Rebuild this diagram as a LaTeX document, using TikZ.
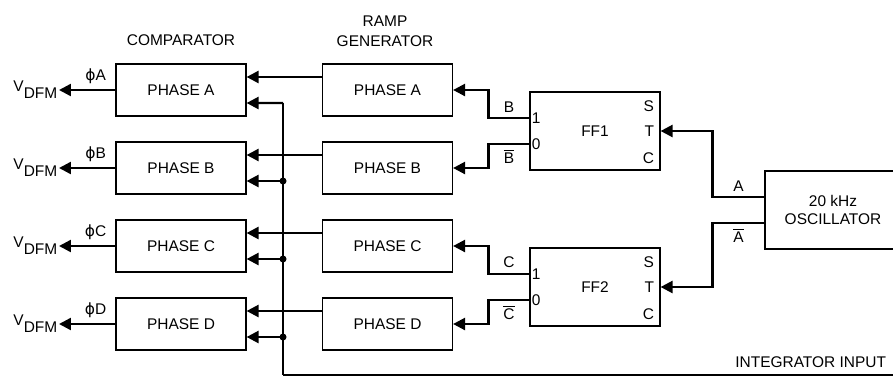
\documentclass[tikz,border=0pt]{standalone}
\usepackage{fontspec}
\setmainfont{Liberation Sans}
\newfontfamily\phifont{DejaVu Sans}
\usetikzlibrary{arrows.meta,calc}
\tikzset{
  box/.style={rectangle,draw,line width=0.8pt,minimum width=3.25cm,
              minimum height=1.3cm,inner sep=0pt,align=center},
  ffbox/.style={box,minimum height=1.95cm},
  arr/.style={-{Triangle[length=8.5pt,width=8.5pt]},line width=1.7pt},
  wire/.style={line width=1.7pt},
  dot/.style={circle,fill,inner sep=0pt,minimum size=5pt},
  pin/.style={inner sep=1.5pt},
}

\begin{document}
\begin{tikzpicture}[x=0.025cm,y=-0.025cm,font=\fontsize{11}{13}\selectfont]
  \useasboundingbox (0,0) rectangle (893,377);
  \clip (0,0) rectangle (893,377);
  % headings
  \node (hcomp) at (181,40) {COMPARATOR};
  \node[align=center] (hramp) at (385,31) {RAMP\\[1pt]GENERATOR};
  % comparators and ramp generators
  \foreach \p/\y in {A/90,B/168,C/246,D/324}{
    \node[box] (c\p) at (181,\y) {PHASE \p};
    \node[box] (r\p) at (387.5,\y) {PHASE \p};
    \node[anchor=east,inner sep=1pt] (v\p) at (59,\y) {V\raisebox{-5pt}{DFM}};
    \draw[arr] (c\p.west) -- node[above,pos=0.35] {{\phifont ϕ}\p} (v\p.east);
    \draw[arr] ([yshift=3.25mm]r\p.west) -- ([yshift=3.25mm]c\p.east);
  }
  % integrator bus
  \coordinate (bustop) at (283,103);
  \coordinate (busend) at (900,375);
  \draw[wire] (bustop) -- (bustop |- busend);
  \draw[line width=0.9pt] (bustop |- busend) -- (busend);
  \node[anchor=south east] (intin) at (891,373) {INTEGRATOR INPUT};
  \draw[arr] (bustop) -- ([yshift=-3.25mm]cA.east);
  \foreach \p in {B,C,D}{
    \coordinate (in\p) at ([yshift=-3.25mm]c\p.east);
    \node[dot] (j\p) at (bustop |- in\p) {};
    \draw[arr] (j\p.center) -- (in\p);
  }
  % flip-flops
  \node[ffbox] (ff1) at (595,131) {FF1};
  \node[ffbox] (ff2) at (595,287) {FF2};
  \foreach \f in {ff1,ff2}{
    \node[pin,anchor=west] (\f-1) at ([yshift=3.25mm]\f.west) {1};
    \node[pin,anchor=west] (\f-0) at ([yshift=-3.25mm]\f.west) {0};
    \node[pin,anchor=east,xshift=-3pt] (\f-s) at ([yshift=6.25mm]\f.east) {S};
    \node[pin,anchor=east,xshift=-3pt] (\f-t) at (\f.east) {T};
    \node[pin,anchor=east,xshift=-3pt] (\f-c) at ([yshift=-6.75mm]\f.east) {C};
  }
  \draw[arr] ([yshift=3.25mm]ff1.west) -- node[above] {B} ++(-41,0) |- (rA.east);
  \draw[arr] ([yshift=-3.25mm]ff1.west) -- node[below] {$\overline{\mbox{B}}$} ++(-41,0) |- (rB.east);
  \draw[arr] ([yshift=3.25mm]ff2.west) -- node[above] {C} ++(-41,0) |- (rC.east);
  \draw[arr] ([yshift=-3.25mm]ff2.west) -- node[below] {$\overline{\mbox{C}}$} ++(-41,0) |- (rD.east);
  % oscillator
  \node[box,minimum width=3.4cm,minimum height=1.95cm] (osc) at (833,210) {20 kHz\\OSCILLATOR};
  \draw[arr] ([yshift=3.25mm]osc.west) -- node[above] {A} ++(-52,0) |- (ff1.east);
  \draw[arr] ([yshift=-3.25mm]osc.west) -- node[below] {$\overline{\mbox{A}}$} ++(-52,0) |- (ff2.east);
\end{tikzpicture}
\end{document}
